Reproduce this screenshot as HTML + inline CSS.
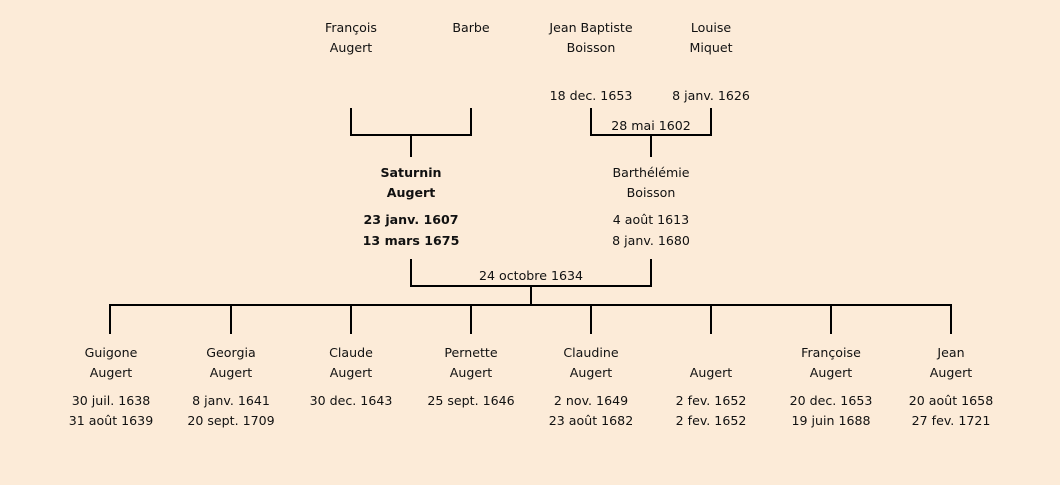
<!DOCTYPE html>
<html><head><meta charset="utf-8"><style>
html,body{margin:0;padding:0;background:#fcebd8;}
svg{display:block}
text{font-family:"DejaVu Sans","Liberation Sans",sans-serif;font-size:12.6px;fill:#111;text-anchor:middle}
.b{font-weight:bold}
</style></head><body>
<svg width="1060" height="485" viewBox="0 0 1060 485">
<rect width="1060" height="485" fill="#fcebd8"/>
<g stroke="#000" stroke-width="2" fill="none">
<path d="M351 108V135H471V108M411 135V157"/>
<path d="M591 108V135H711V108M651 135V157"/>
<path d="M411 259V286H651V259M531 286V305"/>
<path d="M110 334V305H951V334"/>
<path d="M231 305V334M351 305V334M471 305V334M591 305V334M711 305V334M831 305V334"/>
</g>
<text x="351" y="32">François</text><text x="351" y="52">Augert</text>
<text x="471" y="32">Barbe</text>
<text x="591" y="32">Jean Baptiste</text><text x="591" y="52">Boisson</text>
<text x="711" y="32">Louise</text><text x="711" y="52">Miquet</text>
<text x="591" y="100">18 dec. 1653</text>
<text x="711" y="100">8 janv. 1626</text>
<text x="651" y="130">28 mai 1602</text>
<text class="b" x="411" y="177">Saturnin</text><text class="b" x="411" y="197">Augert</text>
<text class="b" x="411" y="224">23 janv. 1607</text><text class="b" x="411" y="245">13 mars 1675</text>
<text x="651" y="177">Barthélémie</text><text x="651" y="197">Boisson</text>
<text x="651" y="224">4 août 1613</text><text x="651" y="245">8 janv. 1680</text>
<text x="531" y="280">24 octobre 1634</text>
<text x="111" y="357">Guigone</text><text x="111" y="377">Augert</text>
<text x="111" y="405">30 juil. 1638</text><text x="111" y="425">31 août 1639</text>
<text x="231" y="357">Georgia</text><text x="231" y="377">Augert</text>
<text x="231" y="405">8 janv. 1641</text><text x="231" y="425">20 sept. 1709</text>
<text x="351" y="357">Claude</text><text x="351" y="377">Augert</text>
<text x="351" y="405">30 dec. 1643</text>
<text x="471" y="357">Pernette</text><text x="471" y="377">Augert</text>
<text x="471" y="405">25 sept. 1646</text>
<text x="591" y="357">Claudine</text><text x="591" y="377">Augert</text>
<text x="591" y="405">2 nov. 1649</text><text x="591" y="425">23 août 1682</text>
<text x="711" y="377">Augert</text>
<text x="711" y="405">2 fev. 1652</text><text x="711" y="425">2 fev. 1652</text>
<text x="831" y="357">Françoise</text><text x="831" y="377">Augert</text>
<text x="831" y="405">20 dec. 1653</text><text x="831" y="425">19 juin 1688</text>
<text x="951" y="357">Jean</text><text x="951" y="377">Augert</text>
<text x="951" y="405">20 août 1658</text><text x="951" y="425">27 fev. 1721</text>
</svg>
</body></html>
